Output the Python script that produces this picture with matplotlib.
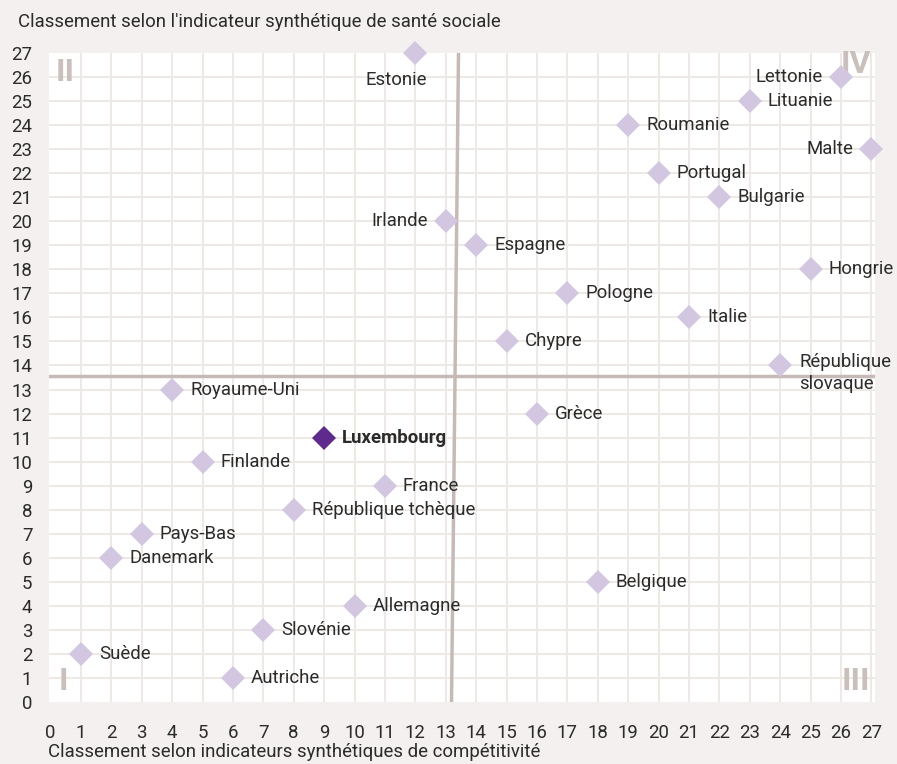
import numpy as np
import matplotlib.pyplot as plt

plt.rcParams['font.family'] = ['Roboto', 'DejaVu Sans']

pays = ["Estonie", "Lettonie", "Lituanie", "Roumanie", "Malte", "Portugal",
        "Bulgarie", "Irlande", "Espagne", "Hongrie", "Pologne", "Italie",
        "Chypre", "République\nslovaque", "Royaume-Uni", "Grèce", "Luxembourg",
        "Finlande", "France", "République tchèque", "Pays-Bas", "Danemark",
        "Belgique", "Allemagne", "Slovénie", "Suède", "Autriche"]
competitivite = [12, 26, 23, 19, 27, 20, 22, 13, 14, 25, 17, 21, 15, 24, 4, 16, 9,
                 5, 11, 8, 3, 2, 18, 10, 7, 1, 6]
sante_sociale = [27, 26, 25, 24, 23, 22, 21, 20, 19, 18, 17, 16, 15, 14, 13, 12, 11,
                 10, 9, 8, 7, 6, 5, 4, 3, 2, 1]
# placement of labels: r = right, l = left, b = below
position = {"Estonie": "b", "Lettonie": "l", "Malte": "l", "Irlande": "l"}

quadrants = ["I", "II", "III", "IV"]
quad_x = [0.42, 0.47, 26.5, 26.5]
quad_y = [0.88, 26.2, 0.88, 26.55]

bg = "#f3f0ef"
grid_col = "#eee9e7"
line_col = "#c6bab6"
light = "#d3c6e1"
dark = "#5e2a8c"
txt = "#2b2b2b"
fs = 13.4

fig = plt.figure(figsize=(8.97, 7.64), dpi=100, facecolor=bg)
ax = fig.add_axes([49 / 897, 1 - 702 / 764, 826 / 897, 649 / 764])
ax.set_facecolor("white")
ax.set_xlim(-0.05, 27.12)
ax.set_ylim(0, 27)

for v in range(1, 28):
    ax.axvline(v, color=grid_col, lw=1.5, zorder=0)
for v in range(1, 27):
    ax.axhline(v, color=grid_col, lw=1.5, zorder=0)

# quadrant separators
ax.plot([-0.05, 27.12], [13.55, 13.55], color=line_col, lw=2.5, zorder=1)
ax.plot([13.42, 13.19], [27, 0], color=line_col, lw=2.5, zorder=1)

for q, qx, qy in zip(quadrants, quad_x, quad_y):
    ax.text(qx, qy, q, color="#c9bfbb", fontsize=23, fontweight="bold",
            ha="center", va="center", zorder=1)

for name, x, y in zip(pays, competitivite, sante_sociale):
    lux = name == "Luxembourg"
    ax.plot(x, y, marker="D", markersize=12, color=dark if lux else light,
            markeredgewidth=0, zorder=3, clip_on=False)
    pos = position.get(name, "r")
    kw = dict(fontsize=fs, color=txt, zorder=4,
              fontweight="bold" if lux else "normal")
    if pos == "r":
        if "\n" in name:
            ax.annotate(name, (x, y), xytext=(14, 9), textcoords="offset points",
                        ha="left", va="top", linespacing=1.3, **kw)
        else:
            ax.annotate(name, (x, y), xytext=(13, 0), textcoords="offset points",
                        ha="left", va="center", **kw)
    elif pos == "l":
        ax.annotate(name, (x, y), xytext=(-13, 0), textcoords="offset points",
                    ha="right", va="center", **kw)
    else:
        ax.annotate(name, (x, y), xytext=(-14, -13), textcoords="offset points",
                    ha="center", va="top", **kw)

ax.set_xticks(range(0, 28))
ax.set_yticks(range(0, 28))
ax.tick_params(length=0, labelsize=fs, labelcolor=txt)
ax.tick_params(axis="x", pad=16)
ax.tick_params(axis="y", pad=12)
for s in ax.spines.values():
    s.set_visible(False)

fig.text(18 / 897, 1 - 22 / 764, "Classement selon l'indicateur synthétique de santé sociale",
         fontsize=fs, color=txt, ha="left", va="center")
fig.text(48 / 897, 1 - 752 / 764, "Classement selon indicateurs synthétiques de compétitivité",
         fontsize=fs, color=txt, ha="left", va="center")

fig.savefig("out.png", dpi=100, facecolor=bg)
